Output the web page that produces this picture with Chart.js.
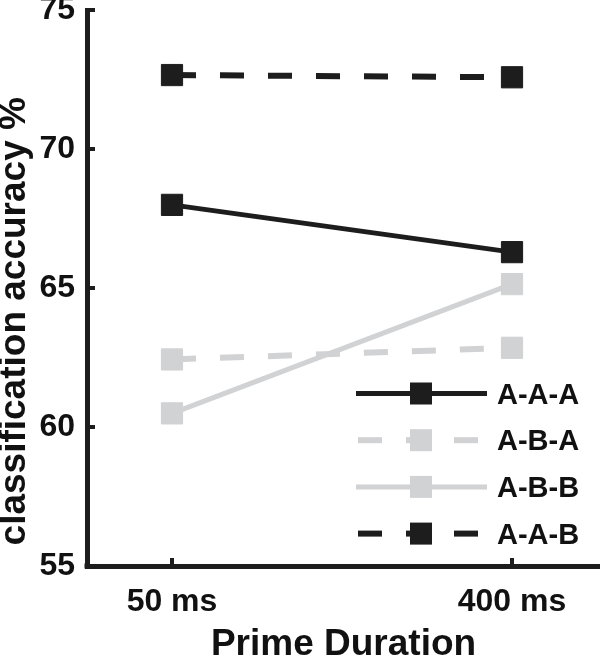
<!DOCTYPE html>
<html><head><meta charset="utf-8">
<script src="https://cdn.jsdelivr.net/npm/chart.js@4.4.0/dist/chart.umd.min.js"></script>
<style>html,body{margin:0;padding:0;background:#fff}canvas{display:block}</style>
</head><body>
<canvas id="c" width="600" height="660"></canvas>
<script>
const categories = ['50 ms', '400 ms'];
const seriesNames = ['A-A-A', 'A-B-A', 'A-B-B', 'A-A-B'];
const aaa = [67.99, 66.29];
const aba = [62.43, 62.85];
const abb = [60.49, 65.14];
const aab = [72.66, 72.58];
const yTicks = [55, 60, 65, 70, 75];
const xTitle = 'Prime Duration';
const yTitle = 'classification accuracy %';

const BLACK = '#1d1d1d', GRAY = '#d1d2d4', TEXT = '#111111';
const FONT = '"Liberation Sans", Arial, Helvetica, sans-serif';
const toPts = vals => vals.map((v, i) => ({x: i, y: v}));

function ds(label, vals, color, dashed) {
  return {
    label, data: toPts(vals), borderColor: color, backgroundColor: color,
    borderWidth: dashed ? 6 : 5, borderDash: dashed ? [24, 24] : [],
    pointStyle: 'rect', pointRadius: 15, pointHoverRadius: 15,
    pointBorderWidth: 1, pointBackgroundColor: color, pointBorderColor: color,
    tension: 0, fill: false, clip: false
  };
}

const innerTicks = {
  id: 'innerTicks',
  afterDatasetsDraw(chart) {
    const {ctx, chartArea, scales: {x, y}} = chart;
    ctx.save();
    ctx.strokeStyle = BLACK; ctx.lineWidth = 4; ctx.lineCap = 'butt';
    y.ticks.forEach(t => {
      const py = y.getPixelForValue(t.value);
      ctx.beginPath(); ctx.moveTo(chartArea.left, py); ctx.lineTo(chartArea.left + 8, py); ctx.stroke();
    });
    x.ticks.forEach(t => {
      const px = x.getPixelForValue(t.value);
      ctx.beginPath(); ctx.moveTo(px, chartArea.bottom); ctx.lineTo(px, chartArea.bottom - 8); ctx.stroke();
    });
    ctx.fillStyle = BLACK;
    ctx.fillRect(chartArea.left - 2.5, chartArea.bottom - 2.5, 5, 5);
    ctx.restore();
  }
};

const lineLegend = {
  id: 'lineLegend',
  afterDraw(chart) {
    const {ctx} = chart;
    const x0 = 356, x1 = 487, mx = 421, tx = 497, y0 = 393.5, dy = 46.7;
    chart.data.datasets.forEach((d, i) => {
      const yy = y0 + i * dy;
      ctx.save();
      ctx.strokeStyle = d.borderColor; ctx.lineWidth = d.borderWidth;
      ctx.setLineDash(d.borderDash || []);
      ctx.beginPath(); ctx.moveTo(d.borderDash.length ? x0 + 2 : x0, yy); ctx.lineTo(x1, yy); ctx.stroke();
      ctx.setLineDash([]);
      ctx.fillStyle = d.pointBackgroundColor;
      ctx.fillRect(mx - 11, yy - 11, 22, 22);
      ctx.fillStyle = TEXT; ctx.font = 'bold 29px ' + FONT;
      ctx.textBaseline = 'middle'; ctx.textAlign = 'left';
      ctx.fillText(d.label, tx, yy + 2);
      ctx.restore();
    });
  }
};

new Chart(document.getElementById('c'), {
  type: 'line',
  data: {
    datasets: [
      ds(seriesNames[0], aaa, BLACK, false),
      ds(seriesNames[1], aba, GRAY, true),
      ds(seriesNames[2], abb, GRAY, false),
      ds(seriesNames[3], aab, BLACK, true)
    ]
  },
  options: {
    responsive: false, animation: false, devicePixelRatio: 1,
    layout: {autoPadding: false, padding: {left: 0, right: 0, top: 10, bottom: 0}},
    plugins: {legend: {display: false}, tooltip: {enabled: false}},
    scales: {
      x: {
        type: 'linear', min: -0.25, max: 1.2588,
        afterBuildTicks: s => { s.ticks = categories.map((c, i) => ({value: i})); },
        afterFit: s => { s.height = 94; s.paddingLeft = 0; s.paddingRight = 0; },
        grid: {display: true, drawOnChartArea: false, drawTicks: false},
        border: {display: true, width: 5, color: BLACK},
        ticks: {
          callback: v => categories[v] ?? '', padding: 17, color: TEXT,
          font: {family: FONT, size: 32, weight: 'bold'}, maxRotation: 0, autoSkip: false
        },
        title: {
          display: true, text: xTitle, color: TEXT, padding: 0,
          font: {family: FONT, size: 37, weight: 'bold', lineHeight: 0.8}
        }
      },
      y: {
        type: 'linear', min: 55, max: 75,
        afterBuildTicks: s => { s.ticks = yTicks.map(v => ({value: v})); },
        afterFit: s => { s.width = 87; s.paddingTop = 0; s.paddingBottom = 0; },
        grid: {display: true, drawOnChartArea: false, drawTicks: false},
        border: {display: true, width: 5, color: BLACK},
        ticks: {
          padding: 12, color: TEXT,
          font: {family: FONT, size: 32, weight: 'bold'}
        },
        title: {
          display: true, text: '  ' + yTitle, align: 'start', color: TEXT, padding: 0,
          font: {family: FONT, size: 37, weight: 'bold', lineHeight: 0.8}
        }
      }
    }
  },
  plugins: [innerTicks, lineLegend]
});
</script>
</body></html>
